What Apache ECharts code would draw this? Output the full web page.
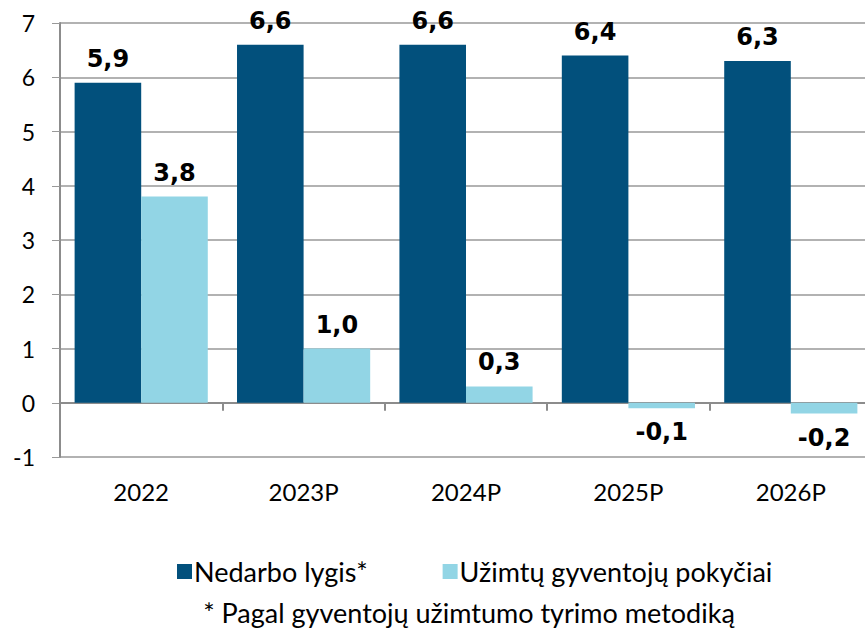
<!DOCTYPE html>
<html>
<head>
<meta charset="utf-8">
<script src="https://cdn.jsdelivr.net/npm/echarts@6/dist/echarts.min.js"></script>
<style>
  html, body { margin: 0; padding: 0; background: #fff; }
  #chart { width: 865px; height: 637px; }
</style>
</head>
<body>
<div id="chart"></div>
<script>
var years = ['2022', '2023P', '2024P', '2025P', '2026P'];
var unemployment = [5.9, 6.6, 6.6, 6.4, 6.3];
var employmentChange = [3.8, 1.0, 0.3, -0.1, -0.2];
var seriesNames = ['Nedarbo lygis*', 'Užimtų gyventojų pokyčiai'];
var footnote = '* Pagal gyventojų užimtumo tyrimo metodiką';

var font = 'Lato, "DejaVu Sans", sans-serif';

// lithuanian decimal comma
function fmt(v) {
  return v.toFixed(1).replace('.', ',');
}

function withLabels(values) {
  return values.map(function (v) {
    return {
      value: v,
      label: { position: v < 0 ? 'bottom' : 'top' }
    };
  });
}

var chart = echarts.init(document.getElementById('chart'), null, { renderer: 'svg' });

var labelStyle = {
  show: true,
  distance: 12,
  fontFamily: '"DejaVu Sans", sans-serif',
  fontWeight: 'bold',
  fontSize: 24,
  color: '#000',
  formatter: function (p) { return fmt(p.value); }
};

chart.setOption({
  animation: false,
  title: {
    text: footnote,
    left: 464,
    textAlign: 'center',
    top: 594,
    textStyle: { fontFamily: font, fontSize: 27, fontWeight: 'normal', color: '#000' }
  },
  legend: {
    data: seriesNames,
    left: 172,
    top: 553,
    itemWidth: 15,
    itemHeight: 15,
    itemGap: 75,
    icon: 'rect',
    textStyle: { fontFamily: font, fontSize: 27, color: '#000', padding: [0, 0, 0, -3] }
  },
  grid: {
    left: 60,
    top: 23,
    width: 812,
    height: 434,
    outerBoundsMode: 'none'
  },
  xAxis: [{
    type: 'category',
    data: years,
    axisLine: { onZero: true, lineStyle: { color: '#8c8c8c', width: 2 } },
    axisTick: { show: true, length: 8, lineStyle: { color: '#8c8c8c', width: 2 } },
    axisLabel: { show: false }
  }, {
    type: 'category',
    data: years,
    position: 'bottom',
    axisLine: { show: false },
    axisTick: { show: false },
    axisLabel: { margin: 22, fontFamily: font, fontSize: 24, color: '#000' }
  }],
  yAxis: {
    type: 'value',
    min: -1,
    max: 7,
    interval: 1,
    axisLine: { show: true, lineStyle: { color: '#8c8c8c', width: 2 } },
    axisTick: { show: true, length: 8, lineStyle: { color: '#999' } },
    axisLabel: { margin: 25, fontFamily: font, fontSize: 23, color: '#000' },
    splitLine: { lineStyle: { color: '#999', width: 1.5 } }
  },
  series: [{
    name: seriesNames[0],
    type: 'bar',
    data: withLabels(unemployment),
    itemStyle: { color: '#02507c' },
    barGap: 0,
    barCategoryGap: '18%',
    label: labelStyle
  }, {
    name: seriesNames[1],
    type: 'bar',
    data: withLabels(employmentChange),
    itemStyle: { color: '#92d5e5' },
    barGap: 0,
    barCategoryGap: '18%',
    label: labelStyle
  }]
});
</script>
</body>
</html>
